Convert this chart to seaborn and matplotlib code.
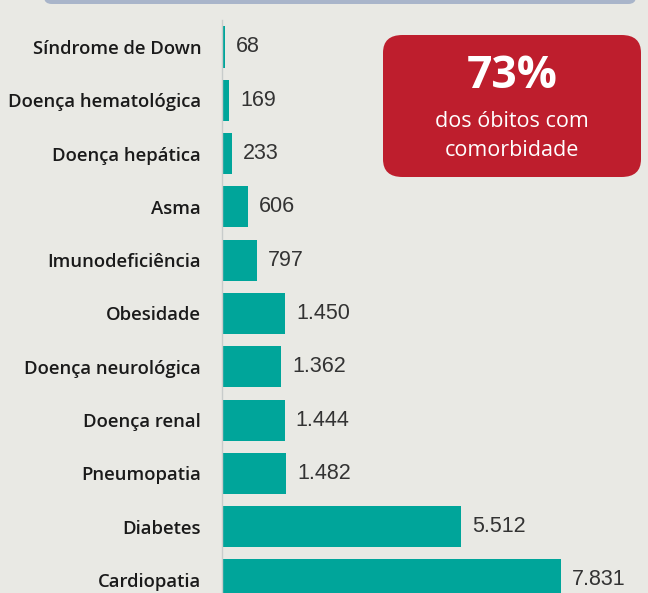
import matplotlib.pyplot as plt
import seaborn as sns
import pandas as pd
from matplotlib.patches import FancyBboxPatch

# Data (óbitos por comorbidade)
categories = ['Síndrome de Down', 'Doença hematológica', 'Doença hepática', 'Asma',
              'Imunodeficiência', 'Obesidade', 'Doença neurológica', 'Doença renal',
              'Pneumopatia', 'Diabetes', 'Cardiopatia']
deaths = [68, 169, 233, 606, 797, 1450, 1362, 1444, 1482, 5512, 7831]
value_labels = ['68', '169', '233', '606', '797', '1.450', '1.362', '1.444', '1.482', '5.512', '7.831']

df = pd.DataFrame({'comorbidade': categories, 'obitos': deaths})

bg = '#E9E9E4'
teal = '#00A59A'
red = '#BE1E2D'

sns.set_theme(style='white')
plt.rcParams['font.family'] = ['Open Sans', 'DejaVu Sans']

fig = plt.figure(figsize=(6.48, 5.93), dpi=100)
fig.patch.set_facecolor(bg)

# axes placed so the last bar runs off the bottom edge, like the source image
ax = fig.add_axes([222 / 648, -0.023, 420 / 648, 0.9887])
ax.set_facecolor('none')

sns.barplot(data=df, x='obitos', y='comorbidade', color=teal, width=0.77,
            saturation=1, linewidth=0, ax=ax)

ax.set_xlim(0, 9700)
ax.set_xlabel('')
ax.set_ylabel('')
ax.set_xticks([])
for side in ['top', 'right', 'bottom']:
    ax.spines[side].set_visible(False)
ax.spines['left'].set_color('#C8CCCB')
ax.spines['left'].set_linewidth(1)
ax.tick_params(axis='y', length=0, pad=15)
for lbl in ax.get_yticklabels():
    lbl.set_fontsize(13.3)
    lbl.set_fontweight('semibold')
    lbl.set_color('#1A1A1A')

ax.bar_label(ax.containers[0], labels=value_labels, padding=8,
             fontsize=15.5, color='#333333', family='Liberation Sans')

# header strip at the top
fig.patches.append(FancyBboxPatch((44 / 648, 1 - 4 / 593), 592 / 648, 30 / 593,
                                  boxstyle='round,pad=0,rounding_size=0.012',
                                  transform=fig.transFigure, facecolor='#A9B5CA',
                                  edgecolor='none', zorder=0))

# red callout box
fig.patches.append(FancyBboxPatch((383 / 648, 1 - 177 / 593), 258 / 648, 142 / 593,
                                  boxstyle='round,pad=0,rounding_size=0.03',
                                  transform=fig.transFigure, facecolor=red,
                                  edgecolor='none', zorder=3))
fig.text(512 / 648, 1 - 77 / 593, '73%', ha='center', va='center', color='white',
         fontsize=32, fontweight='bold', zorder=4)
fig.text(512 / 648, 1 - 122 / 593, 'dos óbitos com', ha='center', va='center',
         color='white', fontsize=15.5, zorder=4)
fig.text(512 / 648, 1 - 150 / 593, 'comorbidade', ha='center', va='center',
         color='white', fontsize=15.5, zorder=4)

fig.savefig('out.png', dpi=100, facecolor=bg)
